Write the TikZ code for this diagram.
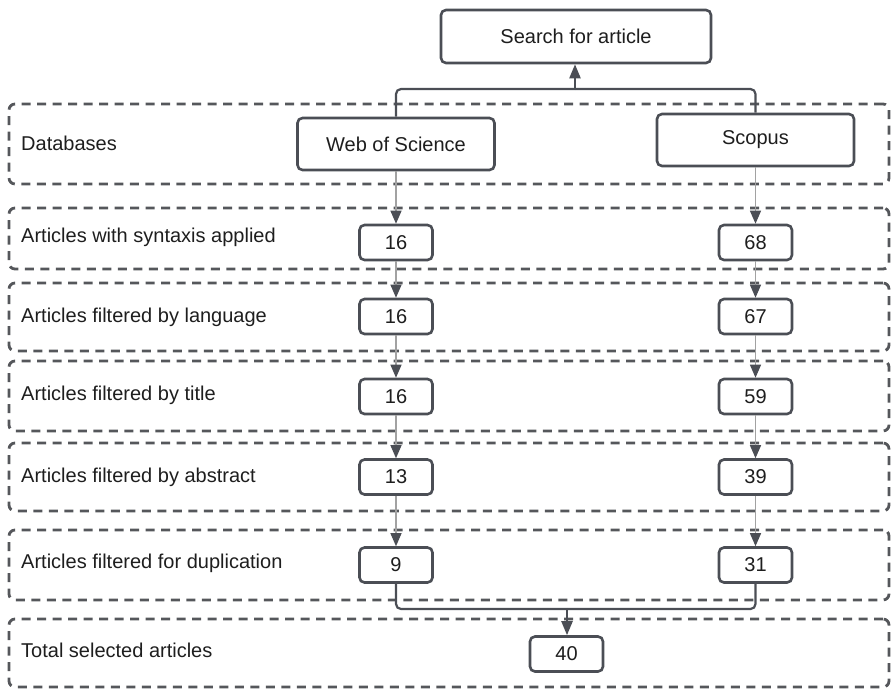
\documentclass[tikz,border=0pt]{standalone}
\usepackage{fontspec}
\setmainfont{Liberation Sans}
\usetikzlibrary{arrows.meta}
\definecolor{boxc}{HTML}{4B4E55}
\definecolor{lanec}{HTML}{55575B}
\definecolor{thinc}{HTML}{A2A2A2}
\definecolor{txtc}{HTML}{1E1E1E}
\tikzset{
  lane/.style={draw=lanec, line width=2.8pt, dash pattern=on 9pt off 6.5pt, rounded corners=6pt, minimum width=880pt, inner sep=0pt},
  bigbox/.style={draw=boxc, line width=2.6pt, rounded corners=5pt, fill=white, text=txtc, inner sep=0pt},
  numbox/.style={draw=boxc, line width=2.6pt, rounded corners=5pt, fill=white, text=txtc, minimum width=73pt, minimum height=35pt, inner sep=0pt},
  lbl/.style={anchor=base west, text=txtc, inner sep=0pt},
  thinarrow/.style={draw=thinc, line width=1.2pt, -{Triangle[length=13pt, width=11pt, color=boxc]}},
  joinline/.style={draw=boxc, line width=2.2pt, rounded corners=5pt},
  joinarrow/.style={draw=boxc, line width=2.2pt, -{Triangle[length=14pt, width=11pt]}}
}
\begin{document}
\begin{tikzpicture}[x=1pt, y=-1pt, font=\fontsize{20}{24}\selectfont]
\useasboundingbox (0,0) rectangle (891,689);
% lanes
\node[lane, minimum height=80pt] (L0) at (449,144) {};
\node[lane, minimum height=61pt] (L1) at (449,238.5) {};
\node[lane, minimum height=68pt] (L2) at (449,317) {};
\node[lane, minimum height=70pt] (L3) at (449,396) {};
\node[lane, minimum height=68pt] (L4) at (449,477) {};
\node[lane, minimum height=70pt] (L5) at (449,565) {};
\node[lane, minimum height=68pt] (L6) at (449,653) {};
% lane labels
\node[lbl] (t0) at (21,150) {Databases};
\node[lbl] (t1) at (21,242) {Articles with syntaxis applied};
\node[lbl] (t2) at (21,322) {Articles filtered by language};
\node[lbl] (t3) at (21,400) {Articles filtered by title};
\node[lbl] (t4) at (21,482) {Articles filtered by abstract};
\node[lbl] (t5) at (21,568) {Articles filtered for duplication};
\node[lbl] (t6) at (21,657) {Total selected articles};
% top boxes
\node[bigbox, minimum width=270pt, minimum height=53pt] (search) at (576,36.5) {Search for article};
\node[bigbox, minimum width=197pt, minimum height=52pt] (wos) at (396,144) {Web of Science};
\node[bigbox, minimum width=197pt, minimum height=52pt] (sco) at (755.5,140) {Scopus};
% number boxes
\node[numbox] (w1) at (396,242.5) {16};
\node[numbox] (s1) at (755.5,242.5) {68};
\node[numbox] (w2) at (396,316.5) {16};
\node[numbox] (s2) at (755.5,316.5) {67};
\node[numbox] (w3) at (396,396.5) {16};
\node[numbox] (s3) at (755.5,396.5) {59};
\node[numbox] (w4) at (396,477) {13};
\node[numbox] (s4) at (755.5,477) {39};
\node[numbox] (w5) at (396,565) {9};
\node[numbox] (s5) at (755.5,565) {31};
\node[numbox] (tot) at (566.5,654) {40};
% join points
\coordinate (jt) at (575,89);
\coordinate (jb) at (567,609);
\coordinate (jtw) at (396,89);
\coordinate (jts) at (755.5,89);
\coordinate (jbw) at (396,609);
\coordinate (jbs) at (755.5,609);
% upward joins
\draw[joinline] (wos.north) -- (jtw) -- (jt);
\draw[joinline] (sco.north) -- (jts) -- (jt);
\draw[joinarrow] (jt) -- (search.south -| jt);
% vertical arrows
\draw[thinarrow] (wos.south) -- (w1.north);
\draw[thinarrow] (sco.south) -- (s1.north);
\draw[thinarrow] (w1) -- (w2);
\draw[thinarrow] (s1) -- (s2);
\draw[thinarrow] (w2) -- (w3);
\draw[thinarrow] (s2) -- (s3);
\draw[thinarrow] (w3) -- (w4);
\draw[thinarrow] (s3) -- (s4);
\draw[thinarrow] (w4) -- (w5);
\draw[thinarrow] (s4) -- (s5);
% bottom join
\draw[joinline] (w5.south) -- (jbw) -- (jb);
\draw[joinline] (s5.south) -- (jbs) -- (jb);
\draw[joinarrow] (jb) -- (tot.north -| jb);
\end{tikzpicture}
\end{document}
